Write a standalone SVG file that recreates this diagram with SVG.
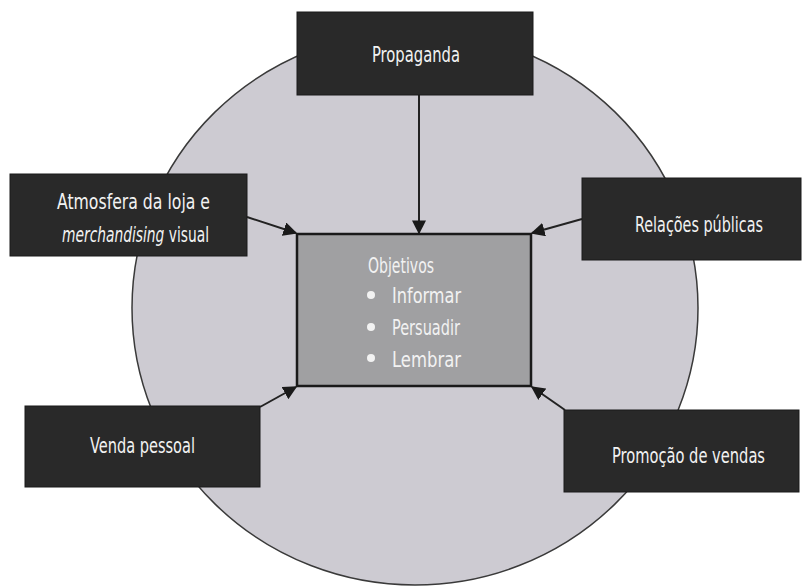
<svg xmlns="http://www.w3.org/2000/svg" width="805" height="586" viewBox="0 0 805 586">
<defs>
<style>
.box{fill:#292929;stroke:#1a1a1a;stroke-width:1}
.lbl{fill:#f2f2f2;font-family:"DejaVu Sans Condensed","DejaVu Sans",sans-serif;font-size:22px}
.conn{stroke:#222;stroke-width:2;fill:none}
</style>
<marker id="ah" viewBox="0 0 10 10" refX="9" refY="5" markerWidth="14" markerHeight="14" markerUnits="userSpaceOnUse" orient="auto">
<path d="M0,0 L10,5 L0,10 z" fill="#1a1a1a"/>
</marker>
</defs>
<rect width="805" height="586" fill="#ffffff"/>
<g id="circle">
<ellipse cx="415" cy="308" rx="283" ry="277" fill="#cdcbd2" stroke="#3a3a3a" stroke-width="1.5"/>
</g>
<g id="objetivos">
<rect x="297" y="234" width="234" height="152" fill="#a0a0a2" stroke="#1a1a1a" stroke-width="2.5"/>
<text class="lbl" transform="translate(368,273) scale(0.7,1)" textLength="94.3" lengthAdjust="spacingAndGlyphs">Objetivos</text>
<circle cx="371" cy="295" r="4" fill="#f2f2f2"/>
<circle cx="371" cy="327" r="4" fill="#f2f2f2"/>
<circle cx="371" cy="358" r="4" fill="#f2f2f2"/>
<text class="lbl" transform="translate(392,303) scale(0.7,1)" textLength="98.6" lengthAdjust="spacingAndGlyphs">Informar</text>
<text class="lbl" transform="translate(392,335) scale(0.7,1)" textLength="97.1" lengthAdjust="spacingAndGlyphs">Persuadir</text>
<text class="lbl" transform="translate(392,367) scale(0.7,1)" textLength="98.6" lengthAdjust="spacingAndGlyphs">Lembrar</text>
</g>
<g id="connectors">
<line class="conn" x1="419" y1="95" x2="419" y2="233" marker-end="url(#ah)"/>
<line class="conn" x1="247" y1="217" x2="296" y2="233" marker-end="url(#ah)"/>
<line class="conn" x1="582" y1="219" x2="532" y2="233" marker-end="url(#ah)"/>
<line class="conn" x1="260" y1="407" x2="296" y2="387" marker-end="url(#ah)"/>
<line class="conn" x1="565" y1="410" x2="532" y2="387" marker-end="url(#ah)"/>
</g>
<g id="propaganda">
<rect class="box" x="297" y="12" width="236" height="83"/>
<text class="lbl" transform="translate(372,62) scale(0.7,1)" textLength="125.7" lengthAdjust="spacingAndGlyphs">Propaganda</text>
</g>
<g id="atmosfera">
<rect class="box" x="10" y="174" width="237" height="82"/>
<text class="lbl" transform="translate(57,209) scale(0.7,1)" textLength="218.6" lengthAdjust="spacingAndGlyphs">Atmosfera da loja e</text>
<text class="lbl" transform="translate(62,242) scale(0.7,1)" textLength="210" lengthAdjust="spacingAndGlyphs"><tspan font-style="italic">merchandising</tspan> visual</text>
</g>
<g id="relacoes">
<rect class="box" x="582" y="178" width="219" height="82"/>
<text class="lbl" transform="translate(635,232) scale(0.7,1)" textLength="182.9" lengthAdjust="spacingAndGlyphs">Relações públicas</text>
</g>
<g id="venda">
<rect class="box" x="25" y="406" width="235" height="81"/>
<text class="lbl" transform="translate(90,453) scale(0.7,1)" textLength="150" lengthAdjust="spacingAndGlyphs">Venda pessoal</text>
</g>
<g id="promocao">
<rect class="box" x="564" y="410" width="235" height="82"/>
<text class="lbl" transform="translate(612,463) scale(0.7,1)" textLength="218.6" lengthAdjust="spacingAndGlyphs">Promoção de vendas</text>
</g>
</svg>
